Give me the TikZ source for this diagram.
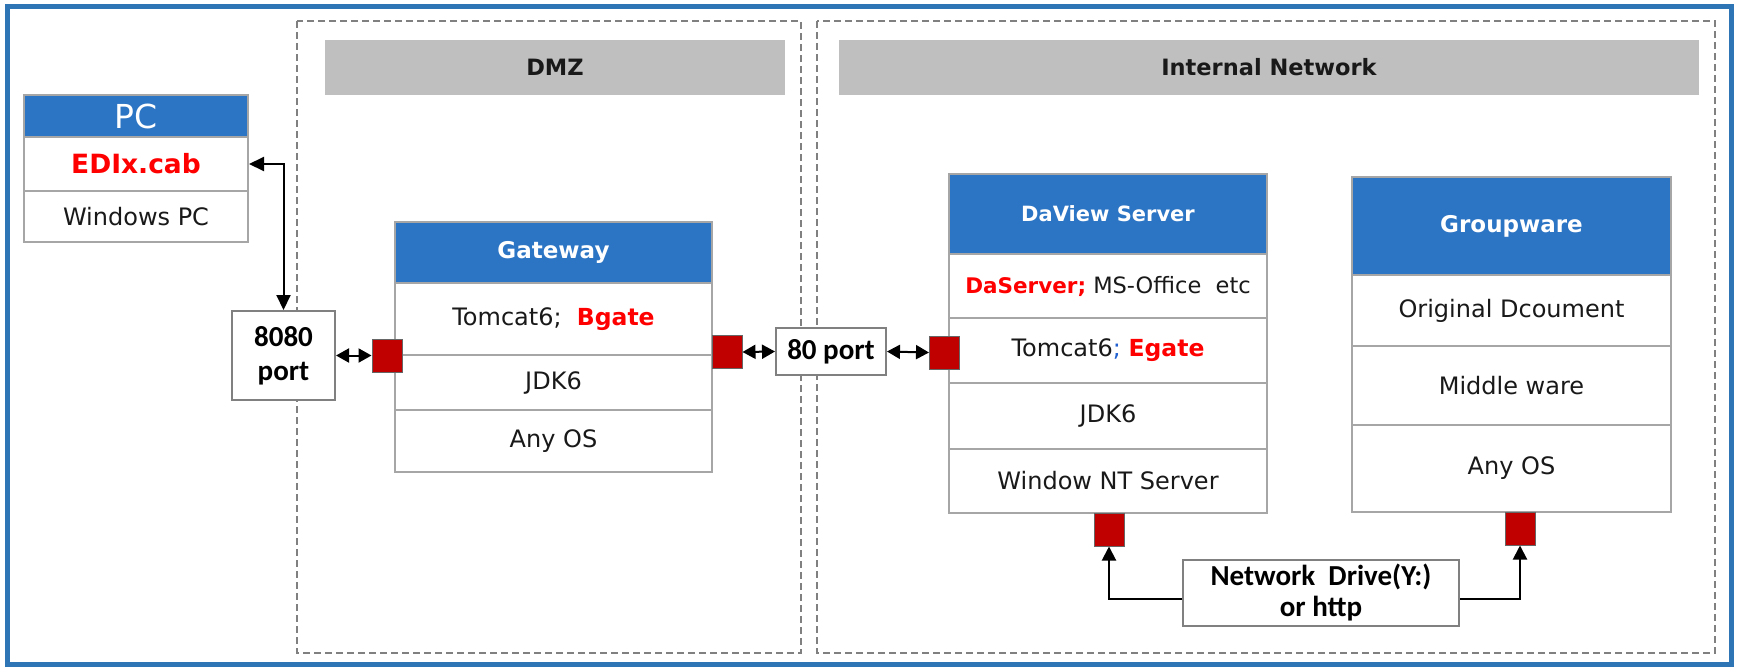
\documentclass[tikz,border=0pt]{standalone}
\usepackage{fontspec}
\setmainfont{DejaVu Sans}
\newfontfamily\calfont{Carlito}
\usetikzlibrary{arrows.meta}
\definecolor{hdblue}{HTML}{2C74C4}
\definecolor{frameblue}{HTML}{2E75B6}
\definecolor{sqred}{HTML}{C00000}
\definecolor{txtred}{HTML}{FF0000}
\definecolor{bargray}{HTML}{BFBFBF}
\definecolor{cellgray}{HTML}{A6A6A6}
\definecolor{dashgray}{HTML}{808080}
\definecolor{semiblue}{HTML}{2060D0}
\begin{document}
\begin{tikzpicture}[x=1pt,y=-1pt,
  cell/.style={draw=cellgray, line width=2pt, fill=white, inner sep=0pt, font=\fontsize{24}{28}\selectfont, text=black!90},
  head/.style={cell, fill=hdblue, text=white, font=\fontsize{23}{27}\selectfont\bfseries},
  zone/.style={draw=dashgray, line width=1.5pt, dash pattern=on 7pt off 4pt},
  bar/.style={fill=bargray, inner sep=0pt, font=\fontsize{22.5}{26}\selectfont\bfseries, text=black!90},
  port/.style={draw=dashgray, line width=2pt, fill=white, inner sep=0pt, align=center, font=\calfont\fontsize{29}{34}\selectfont\bfseries},
  sq/.style={draw=black!60, line width=1pt, fill=sqred, inner sep=0pt, minimum width=30pt, minimum height=33pt},
  conn/.style={draw=black, line width=2pt},
  dbl/.style={conn, {Triangle[length=13pt,width=14pt]}-{Triangle[length=13pt,width=14pt]}},
  tip/.style={conn, -{Triangle[length=14pt,width=14pt]}},
  red/.style={text=txtred}
]
\useasboundingbox (0,0) rectangle (1738,670);
\draw[frameblue, line width=5pt] (7,6) rectangle (1731,664);

% zones
\draw[zone] (297,21) rectangle (801,653);
\draw[zone] (817,21) rectangle (1715,653);
\node[bar, minimum width=460pt, minimum height=55pt] (dmzbar) at (555,67.5) {DMZ};
\node[bar, minimum width=860pt, minimum height=55pt] (intbar) at (1269,67.5) {Internal Network};

% PC
\node[head, font=\fontsize{33}{36}\selectfont, minimum width=224pt, minimum height=42pt] (pch) at (136,116) {PC};
\node[cell, minimum width=224pt, minimum height=54pt, font=\fontsize{26.5}{30}\selectfont\bfseries, red] (pc1) at (136,164) {EDIx.cab};
\node[cell, minimum width=224pt, minimum height=51pt] (pc2) at (136,216.5) {Windows PC};

% Gateway
\node[head, minimum width=317pt, minimum height=61pt] (gwh) at (553.5,252.5) {Gateway};
\node[cell, minimum width=317pt, minimum height=72pt] (gw1) at (553.5,319) {Tomcat6;\ \ {\fontsize{23.5}{27}\selectfont\bfseries\color{txtred}Bgate}};
\node[cell, minimum width=317pt, minimum height=55pt] (gw2) at (553.5,382.5) {JDK6};
\node[cell, minimum width=317pt, minimum height=62pt] (gw3) at (553.5,441) {Any OS};

% DaView Server
\node[head, font=\fontsize{21}{24}\selectfont\bfseries, minimum width=318pt, minimum height=80pt] (dvh) at (1108,214) {DaView Server};
\node[cell, minimum width=318pt, minimum height=64pt, font=\fontsize{22.5}{26}\selectfont] (dv1) at (1108,286) {{\fontsize{21.5}{25}\selectfont\bfseries\color{txtred}DaServer;} MS-Office\ \ etc};
\node[cell, minimum width=318pt, minimum height=65pt] (dv2) at (1108,350.5) {Tomcat6{\color{semiblue};}\ {\fontsize{23.5}{27}\selectfont\bfseries\color{txtred}Egate}};
\node[cell, minimum width=318pt, minimum height=66pt] (dv3) at (1108,416) {JDK6};
\node[cell, minimum width=318pt, minimum height=64pt] (dv4) at (1108,481) {Window NT Server};

% Groupware
\node[head, minimum width=319pt, minimum height=98pt] (gph) at (1511.5,226) {Groupware};
\node[cell, minimum width=319pt, minimum height=71pt] (gp1) at (1511.5,310.5) {Original Dcoument};
\node[cell, minimum width=319pt, minimum height=79pt] (gp2) at (1511.5,385.5) {Middle ware};
\node[cell, minimum width=319pt, minimum height=87pt] (gp3) at (1511.5,468.5) {Any OS};

% port boxes
\node[port, minimum width=103pt, minimum height=89pt] (p8080) at (283.5,355.5) {8080\\port};
\node[port, minimum width=110pt, minimum height=47pt] (p80) at (831,351.5) {80 port};
\node[port, minimum width=276pt, minimum height=66pt, font=\calfont\fontsize{29}{31}\selectfont\bfseries] (nd) at (1321,593) {Network\ \ Drive(Y:)\\or http};

% red squares
\node[sq] (rsq1) at (387,355.5) {};
\node[sq] (rsq2) at (727,352) {};
\node[sq] (rsq3) at (944.5,352.5) {};
\node[sq] (rsq4) at (1109,529.5) {};
\node[sq] (rsq5) at (1520,528.5) {};

% connectors
\draw[conn, {Triangle[length=15pt,width=14pt]}-{Triangle[length=15pt,width=14pt]}] (pc1.east) -| (p8080.north);
\draw[dbl] (p8080.east) -- (rsq1.west);
\draw[dbl] (rsq2.east) -- (p80.west);
\draw[dbl] (p80.east) -- (rsq3.west);
\draw[tip] ([yshift=-6pt]nd.west) -| (rsq4.south);
\draw[tip] ([yshift=-6pt]nd.east) -| (rsq5.south);
\end{tikzpicture}
\end{document}
